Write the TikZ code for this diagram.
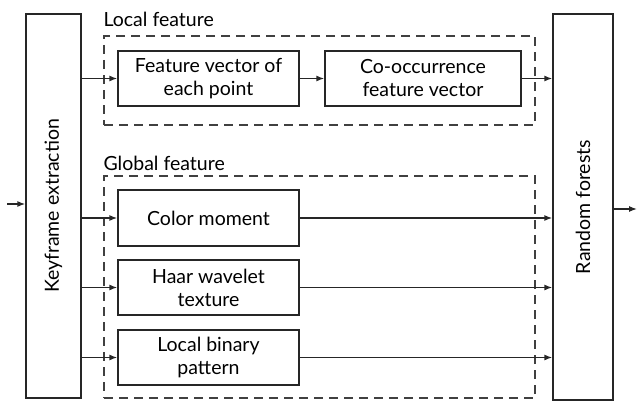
\documentclass[tikz,border=0pt]{standalone}
\usepackage{fontspec}
\setmainfont{Lato}
\usepackage{tikz}
\usetikzlibrary{arrows.meta, positioning, calc}

\begin{document}
\begin{tikzpicture}[x=1pt, y=1pt,
    every node/.style={font=\fontsize{19.5}{23}\selectfont},
    box/.style={draw=black!85, line width=1.3pt, minimum width=181pt, minimum height=55pt, align=center, inner sep=0pt},
    tallbox/.style={draw=black!85, line width=1.3pt, inner sep=0pt},
    group/.style={draw=black!75, line width=1.3pt, dash pattern=on 9pt off 6pt, inner sep=0pt},
    arr/.style={draw=black!85, line width=1.3pt, -{Latex[length=8pt, width=6pt]}}]
  \useasboundingbox (0,0) rectangle (637,400);

  % main blocks
  \node[tallbox, minimum width=55pt, minimum height=384pt] (kf) at (53.5,194) {};
  \node[rotate=90] (kftext) at (kf.center) {Keyframe extraction};
  \node[tallbox, minimum width=60pt, minimum height=386pt] (rf) at (583,193) {};
  \node[rotate=90] (rftext) at (rf.center) {Random forests};

  % feature groups
  \node[group, minimum width=431pt, minimum height=89pt] (localgrp) at (319.5,319.5) {};
  \node[anchor=south west, inner sep=0pt] (locallbl) at ($(localgrp.north west)+(0,8)$) {Local feature};
  \node[group, minimum width=431pt, minimum height=222pt] (globalgrp) at (319.5,113) {};
  \node[anchor=south west, inner sep=0pt] (globallbl) at ($(globalgrp.north west)+(0,4)$) {Global feature};

  % feature boxes
  \node[box] (fv) at (208.5,321.5) {Feature vector of\\each point};
  \node[box, minimum width=196pt] (co) at (423,321.5) {Co-occurrence\\feature vector};
  \node[box, minimum height=56pt] (cm) at (208.5,182) {Color moment};
  \node[box] (haar) at (208.5,112.5) {Haar wavelet\\texture};
  \node[box] (lbp) at (208.5,42.5) {Local binary\\pattern};

  % connectors
  \coordinate (in) at (7,196);
  \coordinate (out) at (637,191);
  \draw[arr] (in) -- (in -| kf.west);
  \draw[arr] (rf.east |- out) -- (out);
  \draw[arr] (kf.east |- fv) -- (fv);
  \draw[arr] (fv) -- (co);
  \draw[arr] (co) -- (rf.west |- co);
  \foreach \n in {cm, haar, lbp} {
    \draw[arr] (kf.east |- \n) -- (\n);
    \draw[arr] (\n) -- (rf.west |- \n);
  }
\end{tikzpicture}
\end{document}
